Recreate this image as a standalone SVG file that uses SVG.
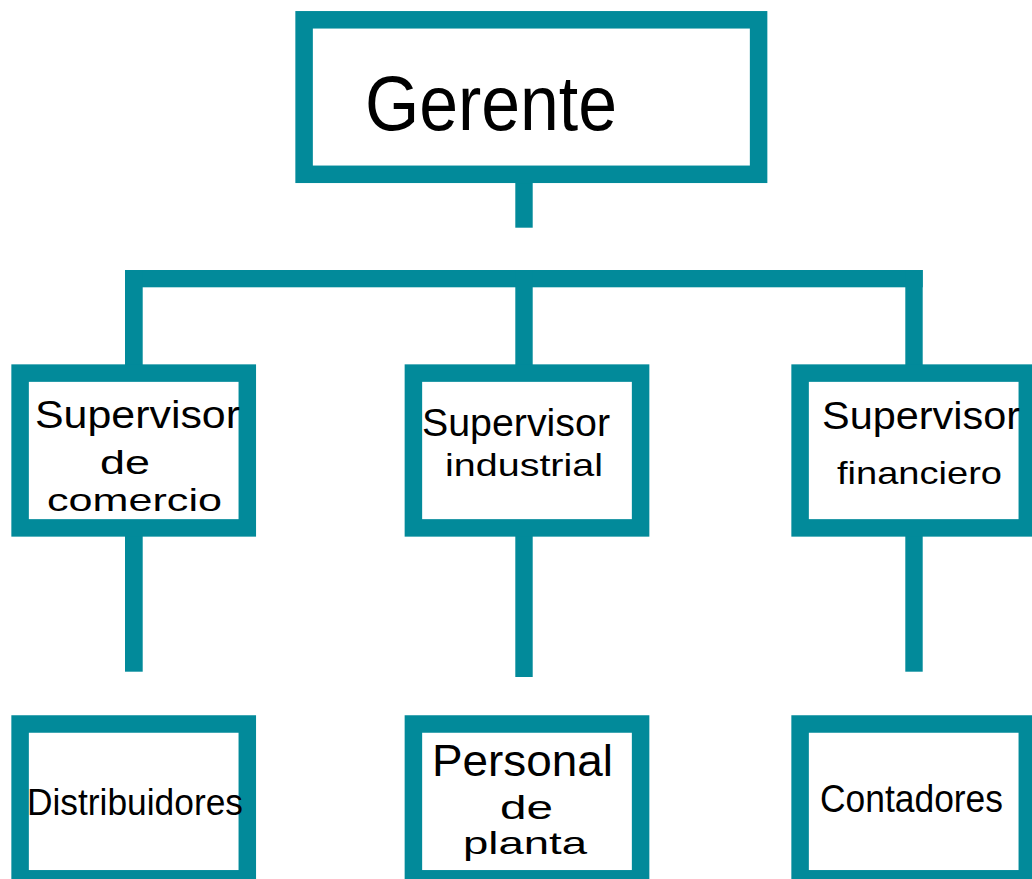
<svg xmlns="http://www.w3.org/2000/svg" width="1032" height="879" viewBox="0 0 1032 879">
<style>
.box{fill:#ffffff;stroke:#028a9a;stroke-width:17.5}
.ln{fill:#028a9a}
text{font-family:"Liberation Sans","Open Sans",sans-serif;fill:#000000}
.t{font-size:38px}
</style>
<rect width="1032" height="879" fill="#ffffff"/>
<g id="connectors">
<rect class="ln" x="515.3" y="183" width="17.4" height="44.7"/>
<rect class="ln" x="125" y="270" width="797.7" height="17.3"/>
<rect class="ln" x="125" y="270" width="17.7" height="100"/>
<rect class="ln" x="515.3" y="270" width="17.4" height="100"/>
<rect class="ln" x="905.3" y="270" width="17.4" height="100"/>
<rect class="ln" x="125" y="530" width="17.7" height="141.7"/>
<rect class="ln" x="515.3" y="530" width="17.4" height="147"/>
<rect class="ln" x="905.3" y="530" width="17.4" height="141.7"/>
</g>
<g id="gerente">
<rect class="box" x="304.1" y="19.8" width="454.5" height="154.5"/>
<text x="365" y="130" font-size="78" textLength="252" lengthAdjust="spacingAndGlyphs">Gerente</text>
</g>
<g id="sup-comercio">
<rect class="box" x="20.1" y="373.1" width="227.2" height="154.8"/>
<text class="t" x="35" y="428" textLength="205" lengthAdjust="spacingAndGlyphs">Supervisor</text>
<text x="100" y="474" font-size="34" textLength="50" lengthAdjust="spacingAndGlyphs">de</text>
<text x="47" y="511" font-size="32" textLength="175" lengthAdjust="spacingAndGlyphs">comercio</text>
</g>
<g id="sup-industrial">
<rect class="box" x="413.4" y="373.1" width="227.2" height="154.8"/>
<text class="t" x="422" y="436" textLength="188" lengthAdjust="spacingAndGlyphs">Supervisor</text>
<text x="445" y="476" font-size="32" textLength="158" lengthAdjust="spacingAndGlyphs">industrial</text>
</g>
<g id="sup-financiero">
<rect class="box" x="800.1" y="373.1" width="227.2" height="154.8"/>
<text class="t" x="822" y="429" textLength="198" lengthAdjust="spacingAndGlyphs">Supervisor</text>
<text x="837" y="484" font-size="32" textLength="165" lengthAdjust="spacingAndGlyphs">financiero</text>
</g>
<g id="distribuidores">
<rect class="box" x="20.1" y="724" width="227.2" height="154.8"/>
<text x="27" y="815" font-size="36" textLength="216" lengthAdjust="spacingAndGlyphs">Distribuidores</text>
</g>
<g id="personal-planta">
<rect class="box" x="413.4" y="724" width="227.2" height="154.8"/>
<text x="432" y="776" font-size="44" textLength="181" lengthAdjust="spacingAndGlyphs">Personal</text>
<text x="500" y="819" font-size="33" textLength="53" lengthAdjust="spacingAndGlyphs">de</text>
<text x="463" y="854" font-size="32" textLength="124" lengthAdjust="spacingAndGlyphs">planta</text>
</g>
<g id="contadores">
<rect class="box" x="800.1" y="724" width="227.2" height="154.8"/>
<text x="820" y="812" font-size="38" textLength="183" lengthAdjust="spacingAndGlyphs">Contadores</text>
</g>
</svg>
